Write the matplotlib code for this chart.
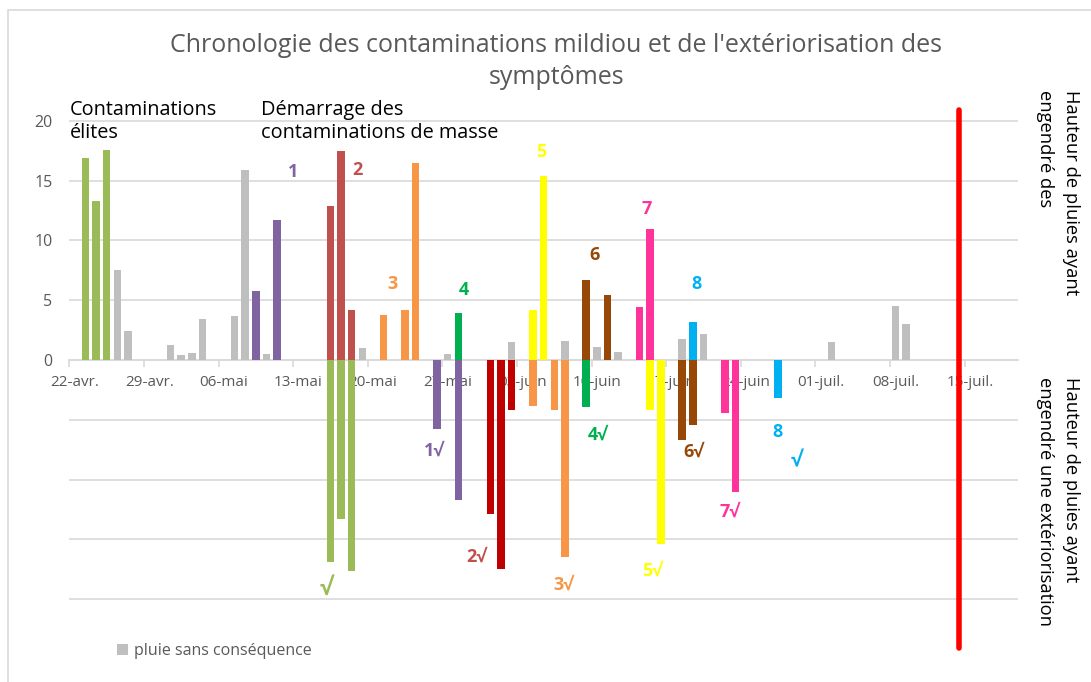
import numpy as np
import pandas as pd
import matplotlib
matplotlib.use("Agg")
import matplotlib.pyplot as plt
from matplotlib.patches import Rectangle

plt.rcParams['font.family'] = ['Open Sans', 'DejaVu Sans']

annee = 2018
debut = pd.Timestamp(annee, 4, 22)

#### Données (hauteur de pluie en mm, dates jj/mm)
# pluies sans conséquence
dates_gris = ['26/04', '27/04', '01/05', '02/05', '03/05', '04/05', '07/05', '08/05', '10/05', '19/05',
              '27/05', '02/06', '07/06', '10/06', '12/06', '18/06', '20/06', '02/07', '08/07', '09/07']
pluie_gris = [7.5, 2.4, 1.3, 0.4, 0.6, 3.4, 3.7, 15.9, 0.5, 1.0,
              0.5, 1.5, 1.6, 1.1, 0.7, 1.8, 2.2, 1.5, 4.5, 3.0]

# pluies contaminantes (positif) et sorties de symptômes (négatif)
dates_elites = ['23/04', '24/04', '25/04']
pluie_elites = [16.9, 13.3, 17.6]
dates_elites_s = ['16/05', '17/05', '18/05']

dates_c1 = ['09/05', '11/05']
pluie_c1 = [5.8, 11.7]
dates_c1_s = ['26/05', '28/05']

dates_c2 = ['16/05', '17/05', '18/05']
pluie_c2 = [12.9, 17.5, 4.15]
dates_c2_s = ['31/05', '01/06', '02/06']

dates_c3 = ['21/05', '23/05', '24/05']
pluie_c3 = [3.8, 4.2, 16.5]
dates_c3_s = ['04/06', '06/06', '07/06']

dates_c4 = ['28/05']
pluie_c4 = [3.95]
dates_c4_s = ['09/06']

dates_c5 = ['04/06', '05/06']
pluie_c5 = [4.2, 15.4]
dates_c5_s = ['15/06', '16/06']

dates_c6 = ['09/06', '11/06']
pluie_c6 = [6.7, 5.45]
dates_c6_s = ['18/06', '19/06']

dates_c7 = ['14/06', '15/06']
pluie_c7 = [4.45, 11.0]
dates_c7_s = ['22/06', '23/06']

dates_c8 = ['19/06']
pluie_c8 = [3.2]
dates_c8_s = ['27/06']

date_limite = '14/07'
limite_haut = 20.9
limite_bas = -24.1

etiquettes_x = ['22-avr.', '29-avr.', '06-mai', '13-mai', '20-mai', '27-mai', '03-juin',
                '10-juin', '17-juin', '24-juin', '01-juil.', '08-juil.', '15-juil.']

gris = '#BFBFBF'
texte_gris = '#595959'
grille = '#D9D9D9'


def jour(liste):
    # position en jours depuis le 22 avril, barre centrée sur la journée
    d = pd.to_datetime([s + '/' + str(annee) for s in liste], format='%d/%m/%Y')
    return np.array((d - debut).days) + 0.5


fig = plt.figure(figsize=(10.91, 6.82), dpi=100)
ax = fig.add_axes([0.0635, 0.0425, 0.8695, 0.8065])

larg = 0.7
ax.bar(jour(dates_gris), pluie_gris, larg, color=gris, zorder=3, label='pluie sans conséquence')

series = [
    (dates_elites, pluie_elites, dates_elites_s, '#9BBB59', '#9BBB59'),
    (dates_c1, pluie_c1, dates_c1_s, '#8064A2', '#8064A2'),
    (dates_c2, pluie_c2, dates_c2_s, '#C0504D', '#C00000'),
    (dates_c3, pluie_c3, dates_c3_s, '#F79646', '#F79646'),
    (dates_c4, pluie_c4, dates_c4_s, '#00B050', '#00B050'),
    (dates_c5, pluie_c5, dates_c5_s, '#FFFF00', '#FFFF00'),
    (dates_c6, pluie_c6, dates_c6_s, '#974706', '#974706'),
    (dates_c7, pluie_c7, dates_c7_s, '#FF3399', '#FF3399'),
    (dates_c8, pluie_c8, dates_c8_s, '#00B0F0', '#00B0F0'),
]
for d, p, ds, c1, c2 in series:
    ax.bar(jour(d), p, larg, color=c1, zorder=3)
    ax.bar(jour(ds), -np.array(p), larg, color=c2, zorder=3)

# trait rouge : fin
xl = jour([date_limite])[0]
ax.plot([xl, xl], [limite_bas, limite_haut], color='#FF0000', lw=4,
        solid_capstyle='round', zorder=5, clip_on=False)

# étiquettes des contaminations
num = [('1', 21.0, 15.7, '#8064A2', 13), ('2', 27.0, 15.9, '#C0504D', 13), ('3', 30.3, 6.4, '#F79646', 13),
       ('4', 37.0, 5.85, '#00B050', 13), ('5', 44.3, 17.4, '#FFFF00', 13), ('6', 49.3, 8.8, '#974706', 13),
       ('7', 54.2, 12.6, '#FF3399', 13), ('8', 58.8, 6.4, '#00B0F0', 13),
       ('√', 24.05, -19.1, '#9BBB59', 17), ('1√', 34.2, -7.6, '#8064A2', 13),
       ('2√', 38.2, -16.45, '#C0504D', 13), ('3√', 46.4, -18.75, '#F79646', 13),
       ('4√', 49.6, -6.2, '#00B050', 13), ('5√', 54.7, -17.6, '#FFFF00', 13),
       ('6√', 58.6, -7.7, '#974706', 13), ('7√', 62.0, -12.7, '#FF3399', 13),
       ('8', 66.45, -6.0, '#00B0F0', 13), ('√', 68.2, -8.4, '#00B0F0', 15)]
for t, x, y, c, fs in num:
    ax.text(x, y, t, color=c, fontsize=fs, fontweight='bold', ha='center', va='center', zorder=6)

ax.text(0.05, 19.95, 'Contaminations\nélites', fontsize=14.3, ha='left', va='center',
        linespacing=1.25, zorder=6)
ax.text(18.0, 19.95, 'Démarrage des\ncontaminations de masse', fontsize=14.3, ha='left', va='center',
        linespacing=1.25, zorder=6)

# axes
ax.set_xlim(0, 89)
ax.set_ylim(-24.5, 21.5)
ax.set_yticks(np.arange(-20, 21, 5))
ax.set_yticklabels([str(v) if v >= 0 else '' for v in range(-20, 21, 5)])
ax.tick_params(axis='y', length=0, pad=12, labelsize=11.5, labelcolor=texte_gris)
ax.grid(axis='y', color=grille, lw=1.2)
ax.set_axisbelow(True)

ax.set_xticks(np.arange(0, 85, 7))
ax.set_xticklabels([])
ax.set_xticks(np.arange(0, 85, 7) + 0.5, minor=True)
ax.set_xticklabels(etiquettes_x, minor=True)
ax.tick_params(axis='x', which='major', length=5, color=grille, width=1.2)
ax.tick_params(axis='x', which='minor', length=0, pad=11, labelsize=11, labelcolor=texte_gris)

for s in ['top', 'right', 'left']:
    ax.spines[s].set_visible(False)
ax.spines['bottom'].set_position(('data', 0))
ax.spines['bottom'].set_color(grille)
ax.spines['bottom'].set_linewidth(1.2)

fig.suptitle("Chronologie des contaminations mildiou et de l'extériorisation des\nsymptômes",
             x=0.51, y=0.952, fontsize=18, color=texte_gris, linespacing=1.4)

fig.text(1080 / 1091, 1 - 90 / 682, 'Hauteur de pluies ayant\nengendré des', rotation=270,
         rotation_mode='anchor', ha='left', va='top', fontsize=13.2, linespacing=1.6)
fig.text(1080 / 1091, 1 - 377 / 682, 'Hauteur de pluies ayant\nengendré une extériorisation',
         rotation=270, rotation_mode='anchor', ha='left', va='top', fontsize=13.2, linespacing=1.6)

leg = fig.legend(loc='center left', bbox_to_anchor=(0.094, 1 - 651 / 682), frameon=False,
                 fontsize=11.5, handlelength=0.7, handleheight=0.7, handletextpad=0.4)
for t in leg.get_texts():
    t.set_color(texte_gris)

# cadre du graphique
fig.patches.append(Rectangle((8 / 1091, -0.02), 1.1, 1 - 10 / 682 + 0.02, transform=fig.transFigure,
                             fill=False, edgecolor=grille, lw=1.2))

fig.savefig('out.png', dpi=100)
